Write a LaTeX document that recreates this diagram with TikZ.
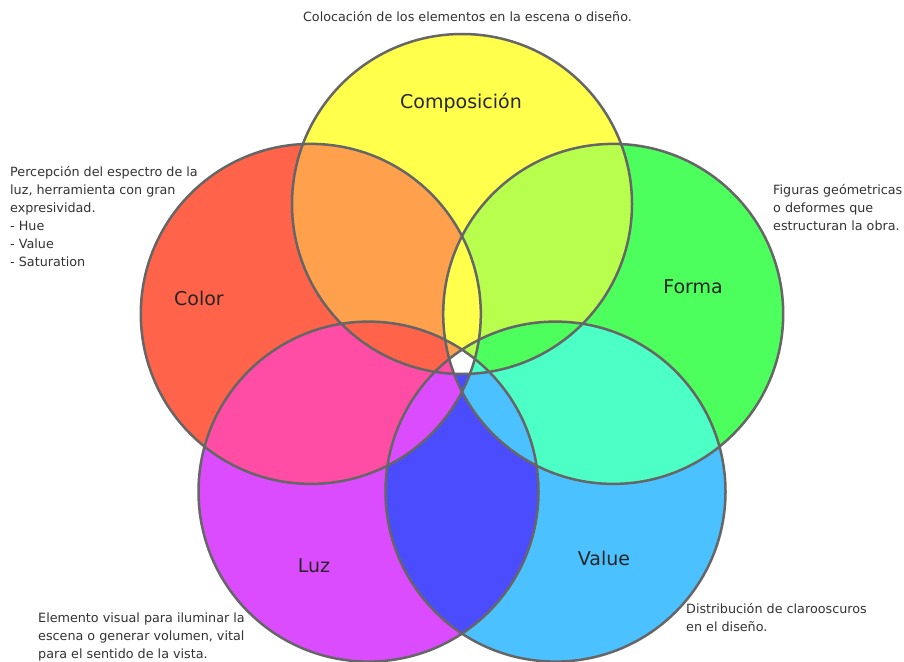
\documentclass[tikz,border=0pt]{standalone}
\usepackage{fontspec}
\setmainfont{DejaVu Sans}
\definecolor{cYel}{HTML}{FFFF4C}
\definecolor{cRed}{HTML}{FF6349}
\definecolor{cGrn}{HTML}{4CFF5C}
\definecolor{cSky}{HTML}{4CC1FF}
\definecolor{cMag}{HTML}{DC4CFF}
\definecolor{cOra}{HTML}{FFA04C}
\definecolor{cLim}{HTML}{B7FF4C}
\definecolor{cAqu}{HTML}{4CFFC4}
\definecolor{cBlu}{HTML}{4C4CFF}
\definecolor{cPnk}{HTML}{FF4CA5}
\definecolor{cEdge}{HTML}{666666}
\definecolor{cTxt}{HTML}{333333}
\begin{document}
\begin{tikzpicture}[x=1pt,y=-1pt,
  note/.style={anchor=north west,align=left,inner sep=0pt,text=cTxt,font=\fontsize{12.75}{18}\selectfont},
  lab/.style={anchor=base,inner sep=0pt,text=black!85,font=\fontsize{19}{22}\selectfont},
  ring/.style={draw=cEdge,line width=2.5pt}]
\useasboundingbox (0,0) rectangle (904,661);
\fill[white] (0,0) rectangle (904,661);
\def\rr{170pt}
\coordinate (cC) at (462,204);
\coordinate (cF) at (613.2,313.9);
\coordinate (cR) at (310.8,313.9);
\coordinate (cV) at (555.5,491.6);
\coordinate (cL) at (368.5,491.6);
% single circles
\fill[cYel] (cC) circle[radius=\rr];
\fill[cRed] (cR) circle[radius=\rr];
\fill[cGrn] (cF) circle[radius=\rr];
\fill[cSky] (cV) circle[radius=\rr];
\fill[cMag] (cL) circle[radius=\rr];
% adjacent pairs
\begin{scope}\clip (cC) circle[radius=\rr]; \fill[cOra] (cR) circle[radius=\rr];\end{scope}
\begin{scope}\clip (cC) circle[radius=\rr]; \fill[cLim] (cF) circle[radius=\rr];\end{scope}
\begin{scope}\clip (cF) circle[radius=\rr]; \fill[cAqu] (cV) circle[radius=\rr];\end{scope}
\begin{scope}\clip (cV) circle[radius=\rr]; \fill[cBlu] (cL) circle[radius=\rr];\end{scope}
\begin{scope}\clip (cL) circle[radius=\rr]; \fill[cPnk] (cR) circle[radius=\rr];\end{scope}
% adjacent triples: colour of the middle circle
\begin{scope}\clip (cR) circle[radius=\rr]; \clip (cF) circle[radius=\rr]; \fill[cYel] (cC) circle[radius=\rr];\end{scope}
\begin{scope}\clip (cC) circle[radius=\rr]; \clip (cV) circle[radius=\rr]; \fill[cGrn] (cF) circle[radius=\rr];\end{scope}
\begin{scope}\clip (cF) circle[radius=\rr]; \clip (cL) circle[radius=\rr]; \fill[cSky] (cV) circle[radius=\rr];\end{scope}
\begin{scope}\clip (cV) circle[radius=\rr]; \clip (cR) circle[radius=\rr]; \fill[cMag] (cL) circle[radius=\rr];\end{scope}
\begin{scope}\clip (cL) circle[radius=\rr]; \clip (cC) circle[radius=\rr]; \fill[cRed] (cR) circle[radius=\rr];\end{scope}
% four-fold overlaps
\begin{scope}\clip (cC) circle[radius=\rr]; \clip (cR) circle[radius=\rr]; \clip (cF) circle[radius=\rr]; \fill[cOra] (cL) circle[radius=\rr];\end{scope}
\begin{scope}\clip (cC) circle[radius=\rr]; \clip (cR) circle[radius=\rr]; \clip (cF) circle[radius=\rr]; \fill[cLim] (cV) circle[radius=\rr];\end{scope}
\begin{scope}\clip (cC) circle[radius=\rr]; \clip (cF) circle[radius=\rr]; \clip (cV) circle[radius=\rr]; \fill[cAqu] (cL) circle[radius=\rr];\end{scope}
\begin{scope}\clip (cR) circle[radius=\rr]; \clip (cF) circle[radius=\rr]; \clip (cV) circle[radius=\rr]; \fill[cBlu] (cL) circle[radius=\rr];\end{scope}
\begin{scope}\clip (cC) circle[radius=\rr]; \clip (cR) circle[radius=\rr]; \clip (cV) circle[radius=\rr]; \fill[cPnk] (cL) circle[radius=\rr];\end{scope}
% five-fold overlap
\begin{scope}\clip (cC) circle[radius=\rr]; \clip (cR) circle[radius=\rr]; \clip (cF) circle[radius=\rr]; \clip (cV) circle[radius=\rr]; \fill[white] (cL) circle[radius=\rr];\end{scope}
% outlines
\draw[ring] (cC) circle[radius=\rr];
\draw[ring] (cR) circle[radius=\rr];
\draw[ring] (cF) circle[radius=\rr];
\draw[ring] (cV) circle[radius=\rr];
\draw[ring] (cL) circle[radius=\rr];
% labels
\node[lab] (lComp) at (461,108) {Composición};
\node[lab] (lColor) at (199,305) {Color};
\node[lab] (lForma) at (693,293) {Forma};
\node[lab] (lLuz) at (314,572) {Luz};
\node[lab] (lValue) at (604,565) {Value};
% notes
\node[anchor=base,inner sep=0pt,text=cTxt,font=\fontsize{12.75}{18}\selectfont] (nTop) at (467.5,22) {Colocación de los elementos en la escena o diseño.};
\node[note] (nColor) at (10,166) {Percepción del espectro de la\\luz, herramienta con gran\\expresividad.\\- Hue\\- Value\\- Saturation};
\node[note] (nForma) at (773,184) {Figuras geómetricas\\o deformes que\\estructuran la obra.};
\node[note] (nLuz) at (38,613) {Elemento visual para iluminar la\\escena o generar volumen, vital\\para el sentido de la vista.};
\node[note] (nValue) at (686,603) {Distribución de clarooscuros\\en el diseño.};
\end{tikzpicture}
\end{document}
